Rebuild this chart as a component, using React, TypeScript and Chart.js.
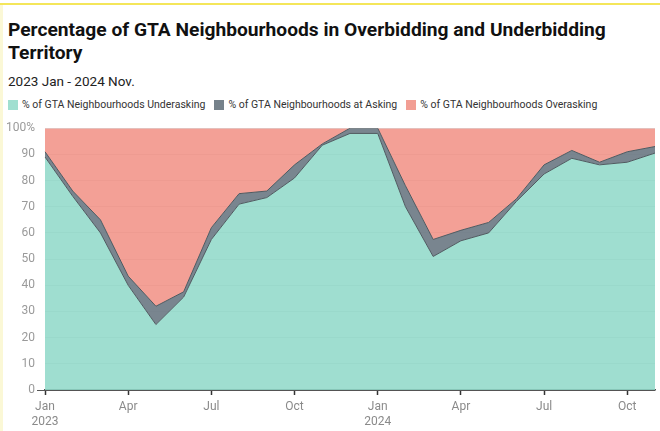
import React, { useEffect, useRef } from "react";
import { Chart, registerables } from "chart.js";

Chart.register(...registerables);

const titleLines = ["Percentage of GTA Neighbourhoods in Overbidding and Underbidding", "Territory"];
const subtitle = "2023 Jan - 2024 Nov.";

const categories = [
  "2023-01", "2023-02", "2023-03", "2023-04", "2023-05", "2023-06", "2023-07", "2023-08", "2023-09", "2023-10", "2023-11", "2023-12",
  "2024-01", "2024-02", "2024-03", "2024-04", "2024-05", "2024-06", "2024-07", "2024-08", "2024-09", "2024-10", "2024-11",
];

const xTickLabels: Record<string, string[]> = {
  "2023-01": ["Jan", "2023"],
  "2023-04": ["Apr"],
  "2023-07": ["Jul"],
  "2023-10": ["Oct"],
  "2024-01": ["Jan", "2024"],
  "2024-04": ["Apr"],
  "2024-07": ["Jul"],
  "2024-10": ["Oct"],
};

const yTickLabels = ["0", "10", "20", "30", "40", "50", "60", "70", "80", "90", "100%"];

const seriesNames = [
  "% of GTA Neighbourhoods Underasking",
  "% of GTA Neighbourhoods at Asking",
  "% of GTA Neighbourhoods Overasking",
];

const underasking = [89, 74, 60, 40, 25, 35.5, 57.5, 71, 73.5, 81, 93.5, 98, 98, 70, 51, 57, 60, 72, 82.5, 88.5, 86, 87, 90.5];
const atAsking = [2, 2, 5, 3.5, 7, 2, 4.5, 4, 2.5, 5, 0.5, 2, 2, 8, 6.5, 4, 4, 1, 3.5, 3, 1, 4, 2.5];
const overasking = [9, 24, 35, 56.5, 68, 62.5, 38, 25, 24, 14, 6, 0, 0, 22, 42.5, 39, 36, 27, 14, 8.5, 13, 9, 7];

const fillColors = ["rgba(143,216,200,0.86)", "rgba(110,123,133,0.92)", "rgba(241,144,133,0.86)"];
const swatchColors = ["#a0dfd0", "#76828b", "#f29e94"];
const lineColor = "#505a60";
const FONT = "Roboto, 'Noto Sans', sans-serif";

export default function App() {
  const canvasRef = useRef<HTMLCanvasElement | null>(null);

  useEffect(() => {
    const canvas = canvasRef.current;
    if (!canvas) return;
    const chart = new Chart(canvas, {
      type: "line",
      data: {
        labels: categories,
        datasets: [
          {
            label: seriesNames[0],
            data: underasking,
            backgroundColor: fillColors[0],
            borderColor: lineColor,
            borderWidth: 1,
            fill: "origin",
            pointRadius: 0,
            tension: 0,
          },
          {
            label: seriesNames[1],
            data: atAsking,
            backgroundColor: fillColors[1],
            borderColor: lineColor,
            borderWidth: 1,
            fill: "-1",
            pointRadius: 0,
            tension: 0,
          },
          {
            label: seriesNames[2],
            data: overasking,
            backgroundColor: fillColors[2],
            borderColor: "rgba(0,0,0,0)",
            borderWidth: 0,
            fill: "-1",
            pointRadius: 0,
            tension: 0,
          },
        ],
      },
      options: {
        animation: false,
        responsive: false,
        maintainAspectRatio: false,
        layout: { padding: { top: 0, right: 5, left: 0, bottom: 0 } },
        plugins: {
          legend: { display: false },
          tooltip: { enabled: false },
          title: { display: false },
        },
        scales: {
          x: {
            type: "category",
            offset: false,
            afterFit: (s: any) => {
              s.height = 41;
            },
            grid: {
              drawOnChartArea: false,
              drawTicks: true,
              tickLength: 5,
              tickWidth: 1.5,
              tickColor: (ctx: any) => (xTickLabels[categories[ctx.index]] ? "#333" : "rgba(0,0,0,0)"),
            },
            border: { display: true, color: "#555", width: 1.5 },
            ticks: {
              autoSkip: false,
              maxRotation: 0,
              padding: 5,
              color: "#8a8a8a",
              font: { family: FONT, size: 12 },
              callback: (_v: any, i: number) => xTickLabels[categories[i]] ?? "",
            },
          },
          y: {
            stacked: true,
            min: 0,
            max: 100,
            afterFit: (s: any) => {
              s.width = 45;
            },
            border: { display: false },
            grid: {
              color: (ctx: any) => (ctx.tick && ctx.tick.value === 0 ? "#555" : "#dcdcdc"),
              tickColor: (ctx: any) => (ctx.tick && ctx.tick.value === 0 ? "#555" : "rgba(0,0,0,0)"),
              tickLength: 8,
              lineWidth: 1,
            },
            ticks: {
              stepSize: 10,
              padding: 2,
              color: "#9a9a9a",
              font: { family: FONT, size: 12 },
              callback: (v: any) => yTickLabels[Math.round(Number(v) / 10)],
            },
          },
        },
      },
    });
    return () => chart.destroy();
  }, []);

  return (
    <div
      style={{
        position: "fixed",
        left: 0,
        top: 0,
        width: 660,
        height: 431,
        background: "#fff",
        overflow: "hidden",
        fontFamily: FONT,
      }}
    >
      <div style={{ position: "absolute", left: 0, top: 3, width: 660, height: 2, background: "#f4e65a" }} />
      <div style={{ position: "absolute", left: 0, top: 5, width: 3, height: 426, background: "#fbf8d6" }} />
      <div
        style={{
          position: "absolute",
          left: 8,
          top: 18,
          fontSize: 19.2,
          fontWeight: 700,
          lineHeight: "23px",
          color: "#111",
          whiteSpace: "nowrap",
        }}
      >
        {titleLines.map((t, i) => (
          <div key={i}>{t}</div>
        ))}
      </div>
      <div style={{ position: "absolute", left: 8, top: 73, fontSize: 13.5, color: "#222", whiteSpace: "nowrap" }}>
        {subtitle}
      </div>
      <div
        style={{
          position: "absolute",
          left: 8,
          top: 98,
          display: "flex",
          alignItems: "center",
          fontSize: 10.5,
          color: "#333",
          whiteSpace: "nowrap",
        }}
      >
        {seriesNames.map((n, i) => (
          <div key={i} style={{ display: "flex", alignItems: "center", marginRight: 9 }}>
            <span style={{ display: "inline-block", width: 10, height: 10, background: swatchColors[i], marginRight: 4 }} />
            <span>{n}</span>
          </div>
        ))}
      </div>
      <canvas
        ref={canvasRef}
        width={660}
        height={312}
        style={{ position: "absolute", left: 0, top: 119, width: 660, height: 312 }}
      />
    </div>
  );
}
